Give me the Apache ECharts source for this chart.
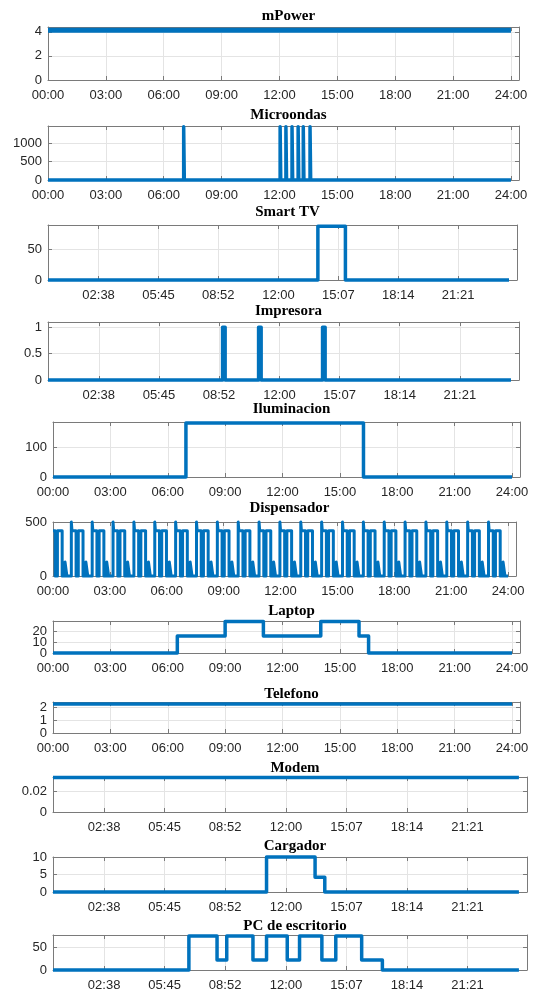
<!DOCTYPE html>
<html><head><meta charset="utf-8">
<script src="https://cdn.jsdelivr.net/npm/echarts@6/dist/echarts.min.js"></script>
<style>html,body{margin:0;padding:0;background:#fff}#c{width:540px;height:992px}</style>
</head><body><div id="c"></div><script>
// ---------- data ----------
const panelNames = ['mPower','Microondas','Smart TV','Impresora','Iluminacion','Dispensador','Laptop','Telefono','Modem','Cargador','PC de escritorio'];
const hourTicks = ['00:00','03:00','06:00','09:00','12:00','15:00','18:00','21:00','24:00'];
const oddTicks = ['02:38','05:45','08:52','12:00','15:07','18:14','21:21'];

const mPowerTimes = ['00:00','24:00'];
const mPowerValues = [4.12, 4.12];
const mPowerYTicks = [0, 2, 4];

const microondasTimes = ['00:00','07:02','07:04','12:02','12:04','12:20','12:22','12:39','12:41','12:58','13:00','13:14','13:16','13:35','13:37','24:00'];
const microondasValues = [0, 1450, 0, 1450, 0, 1450, 0, 1450, 0, 1450, 0, 1450, 0, 1450, 0, 0];
const microondasYTicks = [0, 500, 1000];

const smartTvTimes = ['00:00','14:03','15:29','24:00'];
const smartTvValues = [0, 88, 0, 0];
const smartTvYTicks = [0, 50];

const impresoraTimes = ['00:00','09:03','09:11','10:55','11:03','14:14','14:22','24:00'];
const impresoraValues = [0, 1, 0, 1, 0, 1, 0, 0];
const impresoraYTicks = [0, 0.5, 1];

const iluminacionTimes = ['00:00','06:57','16:14','24:00'];
const iluminacionValues = [0, 182, 0, 0];
const iluminacionYTicks = [0, 100];

const dispensadorTimes = [
  '00:00','00:07','00:14','00:29','00:38','00:44',
  '00:58','01:00','01:13','01:20','01:35','01:44','01:50',
  '02:04','02:06','02:19','02:26','02:41','02:50','02:56',
  '03:10','03:12','03:25','03:32','03:47','03:56','04:02',
  '04:16','04:18','04:31','04:38','04:53','05:02','05:08',
  '05:22','05:24','05:37','05:44','05:59','06:08','06:14',
  '06:28','06:30','06:43','06:50','07:05','07:14','07:20',
  '07:34','07:36','07:49','07:56','08:11','08:20','08:26',
  '08:40','08:42','08:55','09:02','09:17','09:26','09:32',
  '09:46','09:48','10:01','10:08','10:23','10:32','10:38',
  '10:52','10:54','11:07','11:14','11:29','11:38','11:44',
  '11:58','12:00','12:13','12:20','12:35','12:44','12:50',
  '13:04','13:06','13:19','13:26','13:41','13:50','13:56',
  '14:10','14:12','14:25','14:32','14:47','14:56','15:02',
  '15:16','15:18','15:31','15:38','15:53','16:02','16:08',
  '16:22','16:24','16:37','16:44','16:59','17:08','17:14',
  '17:28','17:30','17:43','17:50','18:05','18:14','18:20',
  '18:34','18:36','18:49','18:56','19:11','19:20','19:26',
  '19:40','19:42','19:55','20:02','20:17','20:26','20:32',
  '20:46','20:48','21:01','21:08','21:23','21:32','21:38',
  '21:52','21:54','22:07','22:14','22:29','22:38','22:44',
  '22:58','23:00','23:13','23:20','23:35','23:44','23:50',
  '24:00'
];
const dispensadorValues = [
  420, 0, 420, 0, 130, 0,
  500, 420, 0, 420, 0, 130, 0,
  500, 420, 0, 420, 0, 130, 0,
  500, 420, 0, 420, 0, 130, 0,
  500, 420, 0, 420, 0, 130, 0,
  500, 420, 0, 420, 0, 130, 0,
  500, 420, 0, 420, 0, 130, 0,
  500, 420, 0, 420, 0, 130, 0,
  500, 420, 0, 420, 0, 130, 0,
  500, 420, 0, 420, 0, 130, 0,
  500, 420, 0, 420, 0, 130, 0,
  500, 420, 0, 420, 0, 130, 0,
  500, 420, 0, 420, 0, 130, 0,
  500, 420, 0, 420, 0, 130, 0,
  500, 420, 0, 420, 0, 130, 0,
  500, 420, 0, 420, 0, 130, 0,
  500, 420, 0, 420, 0, 130, 0,
  500, 420, 0, 420, 0, 130, 0,
  500, 420, 0, 420, 0, 130, 0,
  500, 420, 0, 420, 0, 130, 0,
  500, 420, 0, 420, 0, 130, 0,
  500, 420, 0, 420, 0, 130, 0,
  0
];
const dispensadorYTicks = [0, 500];

const laptopTimes = ['00:00','06:30','09:00','11:00','14:00','16:00','16:30','24:00'];
const laptopValues = [0, 16, 29.5, 16, 29.5, 16, 0, 0];
const laptopYTicks = [0, 10, 20];

const telefonoTimes = ['00:00','24:00'];
const telefonoValues = [2.3, 2.3];
const telefonoYTicks = [0, 1, 2];

const modemTimes = ['00:00','24:00'];
const modemValues = [0.033, 0.033];
const modemYTicks = [0, 0.02];

const cargadorTimes = ['00:00','11:00','13:30','14:00','24:00'];
const cargadorValues = [0, 10, 4.2, 0, 0];
const cargadorYTicks = [0, 5, 10];

const pcTimes = ['00:00','07:00','08:27','08:57','10:18','11:00','12:04','12:42','13:51','14:34','15:54','16:58','24:00'];
const pcValues = [0, 75, 22, 75, 22, 75, 22, 75, 22, 75, 22, 0, 0];
const pcYTicks = [0, 50];

// ---------- helpers ----------
function toMin(s){ const p = s.split(':'); return (+p[0])*60 + (+p[1]); }
function pad(n){ return (n<10?'0':'') + n; }
function fmt(v){ const m = Math.round(v); return pad(Math.floor(m/60)) + ':' + pad(m%60); }
function pairs(ts, vs){ return ts.map((t,i)=>[toMin(t), vs[i]]); }

const seriesData = [
  pairs(mPowerTimes, mPowerValues), pairs(microondasTimes, microondasValues),
  pairs(smartTvTimes, smartTvValues), pairs(impresoraTimes, impresoraValues),
  pairs(iluminacionTimes, iluminacionValues), pairs(dispensadorTimes, dispensadorValues),
  pairs(laptopTimes, laptopValues), pairs(telefonoTimes, telefonoValues),
  pairs(modemTimes, modemValues), pairs(cargadorTimes, cargadorValues), pairs(pcTimes, pcValues)
];
const yTicks = [mPowerYTicks, microondasYTicks, smartTvYTicks, impresoraYTicks, iluminacionYTicks,
  dispensadorYTicks, laptopYTicks, telefonoYTicks, modemYTicks, cargadorYTicks, pcYTicks];
const xTickSet = [hourTicks, hourTicks, oddTicks, oddTicks, hourTicks, hourTicks, hourTicks, hourTicks, oddTicks, oddTicks, oddTicks];

// ---------- layout / style ----------
const yMax = [4.4, 1470, 90, 1.1, 185, 500, 30, 2.45, 0.0335, 10, 77];
const XMAX = 1465;
const layout = [
  {t:27, b:80, l:48, r:519, ty:4},
  {t:126, b:180, l:48, r:519, ty:103},
  {t:225, b:280, l:48, r:517, ty:200},
  {t:322, b:380, l:48, r:519, ty:299},
  {t:422, b:477, l:53, r:520, ty:397},
  {t:522, b:576, l:53, r:516, ty:496},
  {t:621, b:653, l:53, r:520, ty:599},
  {t:702, b:733, l:53, r:520, ty:682},
  {t:777, b:812, l:53, r:527, ty:756},
  {t:857, b:892, l:53, r:527, ty:834},
  {t:935, b:970, l:53, r:527, ty:914}
];
const lineWidths = [5, 3.5, 3.5, 3.5, 3.5, 3, 3.5, 3.5, 3.5, 3.5, 3.5];
const AX = '#7a7a7a', GRID = '#e4e4e4', TXT = '#262626', BLUE = '#0072BD';
const FONT = 'Liberation Sans, Arial, sans-serif';
function yfmt(v){ return String(+v.toFixed(4)); }

const option = {animation:false, backgroundColor:'#fff', title:[], grid:[], xAxis:[], yAxis:[], series:[]};
layout.forEach((L, i) => {
  const xt = xTickSet[i].map(toMin);
  const yt = yTicks[i];
  const ytA = yt.filter((v, k) => k % 2 === 0);
  const ytB = yt.filter((v, k) => k % 2 === 1);
  option.title.push({text: panelNames[i], left: (L.l + L.r)/2, top: L.ty, textAlign:'center',
    textStyle:{fontFamily:'Liberation Serif, Times New Roman, serif', fontWeight:'bold', fontSize:15, color:'#000'}});
  option.grid.push({left:L.l, top:L.t, width:L.r - L.l, height:L.b - L.t, show:false});
  const axLine = {show:true, onZero:false, lineStyle:{color:AX, width:1}};
  const lbl = {show:true, fontSize:13, color:TXT, fontFamily:FONT, hideOverlap:false, showMinLabel:true, showMaxLabel:true};
  option.xAxis.push({gridIndex:i, type:'value', min:0, max:XMAX,
    axisLine:axLine, axisTick:{show:true, inside:true, length:4, customValues:xt, lineStyle:{color:AX}},
    axisLabel:Object.assign({}, lbl, {customValues:xt, formatter:fmt, margin:9}),
    splitLine:{show:true, lineStyle:{color:GRID, width:1}}});
  option.xAxis.push({gridIndex:i, type:'value', position:'top', min:0, max:XMAX,
    axisLine:axLine, axisTick:{show:true, inside:true, length:4, customValues:xt, lineStyle:{color:AX}},
    axisLabel:{show:false}, splitLine:{show:false}});
  const yBase = option.yAxis.length;
  option.yAxis.push({gridIndex:i, type:'value', min:0, max:yMax[i],
    axisLine:axLine, axisTick:{show:true, inside:true, length:4, customValues:yt, lineStyle:{color:AX}},
    axisLabel:Object.assign({}, lbl, {customValues:ytA, formatter:yfmt, margin:6}),
    splitLine:{show:true, lineStyle:{color:GRID, width:1}}});
  option.yAxis.push({gridIndex:i, type:'value', position:'right', min:0, max:yMax[i],
    axisLine:axLine, axisTick:{show:true, inside:true, length:4, customValues:yt, lineStyle:{color:AX}},
    axisLabel:{show:false}, splitLine:{show:false}});
  option.yAxis.push({gridIndex:i, type:'value', position:'left', min:0, max:yMax[i],
    axisLine:{show:false}, axisTick:{show:false},
    axisLabel:Object.assign({}, lbl, {show: ytB.length > 0, customValues: ytB.length ? ytB : [0], formatter:yfmt, margin:6}),
    splitLine:{show:false}});
  option.series.push({type:'line', name:panelNames[i], xAxisIndex:2*i, yAxisIndex:yBase, data:seriesData[i],
    step:'end', showSymbol:false, clip:false,
    lineStyle:{color:BLUE, width:lineWidths[i], join:'round', cap:'butt'}, z:3});
});
const chart = echarts.init(document.getElementById('c'), null, {renderer:'canvas'});
chart.setOption(option);
</script></body></html>
